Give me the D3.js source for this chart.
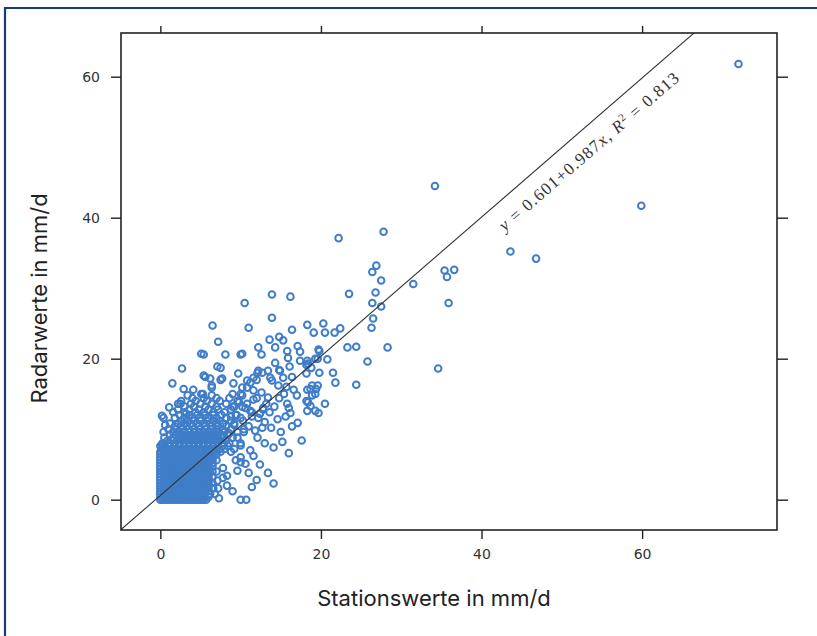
<!DOCTYPE html>
<html>
<head>
<meta charset="utf-8">
<script src="https://cdn.jsdelivr.net/npm/d3@7"></script>
<style>
  body { margin: 0; background: #fff; }
  svg { display: block; }
  .axis text { font-family: "DejaVu Sans", sans-serif; font-size: 14px; fill: #333; }
  .axis line { stroke: #222; stroke-width: 1.4; }
  .axis-title { font-family: Inter, "Noto Sans", sans-serif; font-size: 22px; fill: #222; }
  .fit-label { font-family: "Liberation Serif", "DejaVu Serif", serif; font-size: 17px; fill: #333; }
</style>
</head>
<body>
<div id="chart"></div>
<script>
// Radar vs. station daily precipitation scatter (mm/d), with linear fit.

const WIDTH = 817;
const HEIGHT = 636;
const MARGIN = { top: 33, right: 40, bottom: 106, left: 121 };

const xTicks = [0, 20, 40, 60];
const yTicks = [0, 20, 40, 60];

const fitIntercept = 0.601;
const fitSlope = 0.987;
const fitR2 = 0.813;

// dense cluster near the origin, one row per radar value: [radar, [station values]]
const denseRows = [
  [0.0, [0, 0.3, 0.6, 0.9, 1.2, 1.5, 1.8, 2.1, 2.4, 2.7, 3.0, 3.3, 3.6, 3.9, 4.2, 4.5, 4.8, 5.1, 5.4, 5.7]],
  [0.4, [0, 0.5, 1.0, 1.5, 2.0, 2.5, 3.0, 3.5, 4.0, 4.5, 5.0, 5.5, 6.0]],
  [0.8, [0, 0.5, 1.0, 1.5, 2.0, 2.5, 3.0, 3.5, 4.0, 4.5, 5.0, 5.5, 6.2, 6.8]],
  [1.2, [0, 0.5, 1.0, 1.5, 2.0, 2.5, 3.0, 3.5, 4.0, 4.5, 5.0, 5.5, 6.0]],
  [1.6, [0, 0.5, 1.0, 1.5, 2.0, 2.5, 3.0, 3.5, 4.0, 4.5, 5.0, 5.5, 6.0, 6.6]],
  [2.0, [0, 0.5, 1.0, 1.5, 2.0, 2.5, 3.0, 3.5, 4.0, 4.5, 5.0, 5.5, 6.0]],
  [2.4, [0, 0.5, 1.0, 1.5, 2.0, 2.5, 3.0, 3.5, 4.0, 4.5, 5.0, 5.5, 6.0, 6.5]],
  [2.8, [0, 0.5, 1.0, 1.5, 2.0, 2.5, 3.0, 3.5, 4.0, 4.5, 5.0, 5.5, 6.0]],
  [3.2, [0, 0.5, 1.0, 1.5, 2.0, 2.5, 3.0, 3.5, 4.0, 4.5, 5.0, 5.5, 6.0, 6.5]],
  [3.6, [0, 0.5, 1.0, 1.5, 2.0, 2.5, 3.0, 3.5, 4.0, 4.5, 5.0, 5.5, 6.0]],
  [4.0, [0, 0.5, 1.0, 1.5, 2.0, 2.5, 3.0, 3.5, 4.0, 4.5, 5.0, 5.5, 6.0, 6.5, 7.0]],
  [4.4, [0, 0.5, 1.0, 1.5, 2.0, 2.5, 3.0, 3.5, 4.0, 4.5, 5.0, 5.5, 6.0]],
  [4.8, [0, 0.5, 1.0, 1.5, 2.0, 2.5, 3.0, 3.5, 4.0, 4.5, 5.0, 5.5, 6.0, 6.5]],
  [5.2, [0, 0.5, 1.0, 1.5, 2.0, 2.5, 3.0, 3.5, 4.0, 4.5, 5.0, 5.5, 6.0, 6.5]],
  [5.6, [0, 0.5, 1.0, 1.5, 2.0, 2.5, 3.0, 3.5, 4.0, 4.5, 5.0, 5.5, 6.0, 6.5, 7.0]],
  [6.0, [0, 0.5, 1.0, 1.5, 2.0, 2.5, 3.0, 3.5, 4.0, 4.5, 5.0, 5.5, 6.0, 6.5]],
  [6.4, [0, 0.5, 1.0, 1.5, 2.0, 2.5, 3.0, 3.5, 4.0, 4.5, 5.0, 5.5, 6.0, 6.5, 7.0]],
  [6.8, [0, 0.5, 1.0, 1.5, 2.0, 2.5, 3.0, 3.5, 4.0, 4.5, 5.0, 5.5, 6.0, 6.5, 7.0, 7.5]],
  [7.2, [0.2, 0.8, 1.4, 2.0, 2.6, 3.2, 3.8, 4.4, 5.0, 5.6, 6.2, 6.8, 7.4, 8.0, 9.2]],
  [7.6, [0, 0.5, 1.1, 1.7, 2.3, 2.9, 3.5, 4.1, 4.7, 5.3, 5.9, 6.5, 7.1, 7.7, 8.4]],
  [8.0, [0.3, 1.2, 1.8, 2.4, 3.0, 3.6, 4.2, 4.8, 5.4, 6.0, 6.6, 7.2, 7.8, 8.6, 10.0]],
  [8.4, [0.9, 1.5, 2.1, 2.7, 3.3, 3.9, 4.5, 5.1, 5.7, 6.3, 6.9, 7.5, 8.2]],
  [8.8, [0.5, 1.6, 2.4, 3.0, 3.6, 4.2, 4.8, 5.4, 6.0, 6.6, 7.2, 7.8, 9.0]],
  [9.2, [1.2, 2.0, 2.7, 3.3, 3.9, 4.5, 5.1, 5.7, 6.3, 6.9, 7.6, 8.4]],
  [9.6, [0.4, 1.6, 2.4, 3.0, 3.6, 4.2, 4.8, 5.4, 6.0, 6.6, 7.2, 8.0, 9.6]],
  [10.0, [1.0, 2.0, 2.8, 3.5, 4.2, 4.9, 5.6, 6.3, 7.0, 7.8, 8.8, 10.4]],
  [10.4, [1.8, 2.6, 3.3, 4.0, 4.8, 5.6, 6.4, 7.2, 8.2]],
  [10.8, [1.2, 2.2, 3.0, 3.8, 4.6, 5.4, 6.2, 7.0, 7.8, 9.2]],
  [11.2, [2.6, 3.4, 4.2, 5.0, 5.8, 6.6, 7.4, 8.8]],
  [11.6, [0.4, 1.8, 3.0, 4.0, 5.0, 6.0, 7.0, 8.2, 10.0]],
  [12.0, [2.4, 3.6, 4.6, 5.6, 6.6, 7.6, 9.4]],
  [12.4, [1.6, 3.0, 4.4, 5.4, 6.6, 8.0, 11.4]],
  [12.8, [2.2, 3.6, 4.8, 6.0, 7.2, 8.8, 12.8]],
  [13.2, [3.0, 4.2, 5.6, 7.0, 9.2, 10.2]],
  [13.6, [2.2, 3.8, 5.0, 6.4, 8.2, 10.8]],
  [14.0, [2.6, 4.4, 5.8, 7.4, 9.6]],
  [14.4, [4.0, 5.4, 7.0, 8.6, 12.0]],
  [14.8, [3.4, 6.4, 10.2]]
];

// individually read points: [station, radar]
const scatterPoints = [
  [72.0, 61.8], [59.9, 41.7], [34.2, 44.5], [43.6, 35.2], [46.8, 34.2], [27.8, 38.0], [22.2, 37.1],
  [35.4, 32.5], [35.7, 31.6], [36.6, 32.6], [35.9, 27.9], [34.6, 18.6], [31.5, 30.6],
  [26.9, 33.2], [26.4, 32.3], [27.5, 31.1], [26.8, 29.4], [26.4, 27.9], [27.5, 27.4], [23.5, 29.2],
  [26.5, 25.7], [26.3, 24.4], [28.3, 21.6], [25.8, 19.6], [24.4, 21.7], [23.3, 21.6], [21.5, 18.0],
  [24.4, 16.3], [21.8, 16.6], [16.2, 28.8], [13.9, 29.1], [13.9, 25.8], [10.5, 27.9], [11.0, 24.4],
  [16.4, 24.1], [18.3, 24.8], [19.1, 23.7], [20.3, 25.0], [20.5, 23.7], [21.7, 23.7], [22.4, 24.3],
  [19.8, 21.1], [20.8, 19.9], [17.1, 21.8], [13.6, 22.7], [14.8, 23.1], [15.3, 22.6], [14.3, 21.6],
  [15.8, 21.1], [12.2, 21.6], [12.6, 20.6], [17.4, 19.7], [19.6, 20.0], [18.8, 18.7], [18.2, 19.1],
  [19.8, 18.0], [18.9, 16.2], [14.3, 19.4], [15.9, 20.1], [14.8, 18.4], [13.4, 18.3], [12.1, 18.0],
  [10.8, 16.9], [10.2, 20.7], [6.5, 24.7], [7.2, 22.4], [10.0, 20.6], [8.1, 20.6], [5.4, 20.6],
  [7.1, 18.9], [7.7, 17.2], [5.6, 17.4], [6.4, 16.2], [5.3, 15.0], [17.4, 21.0], [19.7, 21.3],
  [19.3, 20.0], [18.3, 19.7], [18.2, 17.9], [16.1, 18.9], [15.3, 17.3], [16.4, 17.4], [15.7, 16.0],
  [18.7, 15.7], [19.3, 15.0], [19.6, 16.2], [18.7, 13.3], [18.2, 14.0], [18.3, 12.6], [19.7, 12.3],
  [20.5, 13.6], [17.1, 10.9], [16.0, 13.0], [16.2, 12.3], [15.4, 15.0], [14.7, 16.2], [13.7, 17.3],
  [12.7, 18.0], [12.0, 17.0], [11.2, 16.6], [9.7, 17.9], [9.1, 16.5], [10.2, 15.9], [10.8, 15.9],
  [9.0, 15.0], [7.5, 18.7], [2.7, 18.6], [1.5, 16.5], [2.9, 15.7], [4.1, 15.6], [5.1, 15.0],
  [5.4, 17.6], [6.2, 17.2], [6.4, 15.9], [7.5, 17.0], [2.5, 13.6], [1.1, 13.1], [0.2, 11.9],
  [0.6, 10.6], [3.2, 12.2], [0.2, 7.9], [14.1, 7.4], [13.4, 3.8], [14.1, 2.3], [7.3, 0.2],
  [10.0, 0.0], [10.7, 0.0], [8.3, 2.0], [7.2, 1.6], [7.8, 3.1], [9.6, 4.1], [10.0, 6.0], [11.2, 7.0],
  [10.0, 7.7], [12.1, 8.8], [12.7, 10.2], [12.2, 11.6], [11.2, 12.6], [12.8, 13.0], [13.4, 14.5],
  [11.6, 15.5], [10.0, 15.0], [10.0, 5.3], [10.6, 5.1], [7.8, 4.5], [8.3, 3.4], [7.1, 2.7],
  [5.1, 20.7], [18.4, 19.3], [12.2, 18.3], [13.9, 16.9], [11.6, 17.3], [14.9, 18.3], [18.3, 15.6],
  [18.9, 14.8], [19.4, 15.7], [18.4, 13.8], [19.3, 12.6], [15.8, 13.6],
  [9.5, 12.0], [10.3, 11.2], [11.0, 10.4], [11.8, 9.8], [9.0, 13.2], [9.8, 13.8], [10.6, 13.0],
  [11.4, 11.8], [12.4, 12.2], [13.0, 11.0], [13.6, 12.4], [14.2, 13.2], [13.8, 10.2], [14.6, 11.4],
  [15.0, 9.6], [9.2, 10.6], [8.8, 11.8], [10.4, 9.6], [11.6, 14.2], [12.6, 15.2], [13.2, 13.6],
  [14.8, 14.4], [15.6, 11.8], [16.4, 10.4], [17.0, 14.8], [16.6, 15.6], [15.2, 8.2], [13.0, 8.0],
  [11.6, 6.2], [12.4, 5.0], [11.0, 3.8], [12.0, 2.8], [9.0, 1.2], [11.4, 1.8], [16.0, 6.6],
  [17.6, 8.4], [9.6, 8.8], [8.6, 9.4], [8.8, 6.8], [9.4, 5.6]
];

const points = denseRows
  .flatMap(([radar, stations]) => stations.map((s) => [s, radar]))
  .concat(scatterPoints);

const svg = d3.select("#chart")
  .append("svg")
  .attr("width", WIDTH)
  .attr("height", HEIGHT);

// page frame (top + left rule)
svg.append("path")
  .attr("d", `M5,${HEIGHT} V8 H${WIDTH}`)
  .attr("fill", "none")
  .attr("stroke", "#173a78")
  .attr("stroke-width", 2.2);

const x = d3.scaleLinear()
  .domain([-4.9, 76.8])
  .range([MARGIN.left, WIDTH - MARGIN.right]);

const y = d3.scaleLinear()
  .domain([-4.3, 66.2])
  .range([HEIGHT - MARGIN.bottom, MARGIN.top]);

const [x0, x1] = x.range();
const [y0, y1] = y.range();

svg.append("clipPath")
  .attr("id", "plot-clip")
  .append("rect")
  .attr("x", x0).attr("y", y1)
  .attr("width", x1 - x0).attr("height", y0 - y1);

// axes: labels on left/bottom, bare ticks on top/right
svg.append("g").attr("class", "axis")
  .attr("transform", `translate(${x0},0)`)
  .call(d3.axisLeft(y).tickValues(yTicks).tickSize(10).tickPadding(11))
  .call((g) => g.select(".domain").remove());

svg.append("g").attr("class", "axis")
  .attr("transform", `translate(0,${y0})`)
  .call(d3.axisBottom(x).tickValues(xTicks).tickSize(9).tickPadding(10))
  .call((g) => g.select(".domain").remove());

svg.append("g").attr("class", "axis")
  .attr("transform", `translate(0,${y1})`)
  .call(d3.axisTop(x).tickValues(xTicks).tickSize(7).tickFormat(""))
  .call((g) => g.select(".domain").remove());

svg.append("g").attr("class", "axis")
  .attr("transform", `translate(${x1},0)`)
  .call(d3.axisRight(y).tickValues(yTicks).tickSize(11).tickFormat(""))
  .call((g) => g.select(".domain").remove());

const plot = svg.append("g").attr("clip-path", "url(#plot-clip)");

plot.selectAll("circle")
  .data(points)
  .join("circle")
  .attr("cx", (d) => x(d[0]))
  .attr("cy", (d) => y(d[1]))
  .attr("r", 3.3)
  .attr("fill", "none")
  .attr("stroke", "#3f7dc8")
  .attr("stroke-width", 2);

// regression line
const [dx0, dx1] = x.domain();
const fitLine = [dx0, dx1].map((v) => [v, fitIntercept + fitSlope * v]);
plot.append("path")
  .datum(fitLine)
  .attr("d", d3.line().x((d) => x(d[0])).y((d) => y(d[1])))
  .attr("fill", "none")
  .attr("stroke", "#333")
  .attr("stroke-width", 1.1);

// plot box
svg.append("rect")
  .attr("x", x0).attr("y", y1)
  .attr("width", x1 - x0).attr("height", y0 - y1)
  .attr("fill", "none")
  .attr("stroke", "#222")
  .attr("stroke-width", 1.6);

// fit annotation, rotated to the line's slope
const angle = Math.atan2(y(fitLine[1][1]) - y(fitLine[0][1]), x(fitLine[1][0]) - x(fitLine[0][0])) * 180 / Math.PI;
const labelAt = [42.9, 38.0];
const label = svg.append("text")
  .attr("class", "fit-label")
  .attr("transform", `translate(${x(labelAt[0])},${y(labelAt[1])}) rotate(${angle})`)
  .attr("textLength", 232)
  .attr("lengthAdjust", "spacing");
label.append("tspan").attr("font-style", "italic").text("y");
label.append("tspan").text(` = ${fitIntercept}+${fitSlope}`);
label.append("tspan").attr("font-style", "italic").text("x");
label.append("tspan").text(", ");
label.append("tspan").attr("font-style", "italic").text("R");
label.append("tspan").attr("baseline-shift", "super").attr("font-size", "11px").text("2");
label.append("tspan").text(` = ${fitR2}`);

// axis titles
svg.append("text")
  .attr("class", "axis-title")
  .attr("x", 434)
  .attr("y", 606)
  .attr("text-anchor", "middle")
  .text("Stationswerte in mm/d");

svg.append("text")
  .attr("class", "axis-title")
  .attr("transform", `translate(47,${(y0 + y1) / 2 + 17}) rotate(-90)`)
  .attr("text-anchor", "middle")
  .text("Radarwerte in mm/d");
</script>
</body>
</html>
